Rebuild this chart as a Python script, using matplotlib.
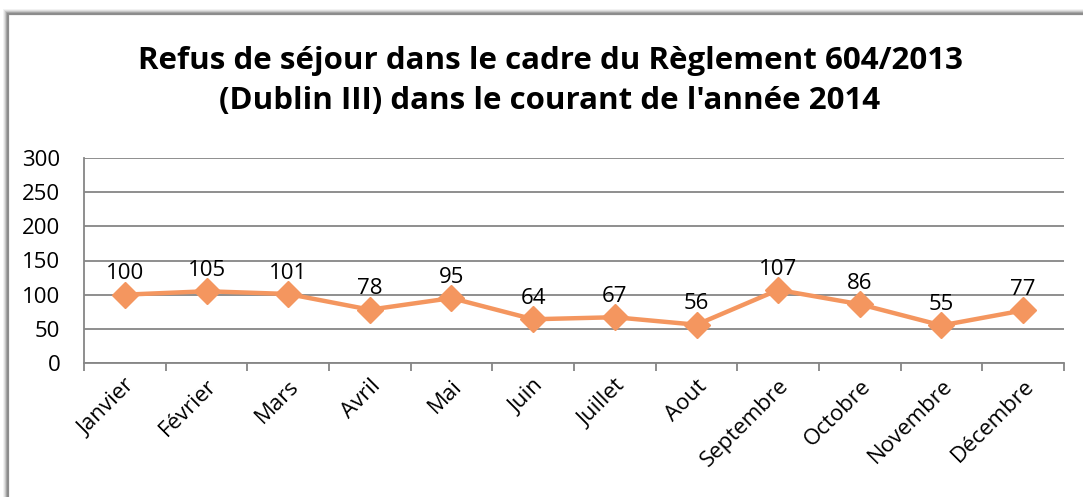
import matplotlib
matplotlib.use("Agg")
import matplotlib.pyplot as plt
from matplotlib.patches import Rectangle

months = ["Janvier", "Février", "Mars", "Avril", "Mai", "Juin", "Juillet",
          "Aout", "Septembre", "Octobre", "Novembre", "Décembre"]
values = [100, 105, 101, 78, 95, 64, 67, 56, 107, 86, 55, 77]
yticks = [0, 50, 100, 150, 200, 250, 300]
title = "Refus de séjour dans le cadre du Règlement 604/2013\n(Dublin III) dans le courant de l'année 2014"

plt.rcParams['font.family'] = ['Open Sans', 'DejaVu Sans']

W, H = 1083, 497
fig = plt.figure(figsize=(W / 100, H / 100), dpi=100)
fig.patch.set_facecolor("white")

# frame with shadow
for i, a in enumerate([0.05, 0.08, 0.11, 0.15, 0.2]):
    off = (5 - i)
    fig.patches.append(Rectangle(((8 - off) / W, 0), 1.0, (H - 14 + off) / H,
                                 transform=fig.transFigure, facecolor=(0, 0, 0, a),
                                 edgecolor="none", zorder=0))
fig.patches.append(Rectangle((8 / W, -0.1), 1.2, (H - 14) / H + 0.1,
                             transform=fig.transFigure, facecolor="white",
                             edgecolor="#8c8c8c", linewidth=1.6, zorder=1))

left, right, top, bottom = 84, 1064, 158, 363
ax = fig.add_axes([left / W, 1 - bottom / H, (right - left) / W, (bottom - top) / H])
ax.set_zorder(2)
ax.patch.set_alpha(0)

fs = 16
color = "#F4965F"
x = list(range(len(months)))
ax.plot(x, values, color=color, linewidth=3.2, marker="D", markersize=13,
        markeredgecolor=color, markerfacecolor=color, zorder=3, clip_on=False)
for xi, v in zip(x, values):
    ax.annotate(str(v), (xi, v), xytext=(0, 11), textcoords="offset points",
                ha="center", va="baseline", fontsize=fs, color="black")

ax.set_xlim(-0.5, len(months) - 0.5)
ax.set_ylim(0, 300)
ax.set_yticks(yticks)
ax.set_yticklabels([str(t) for t in yticks], fontsize=fs)
ax.yaxis.grid(True, color="#868686", linewidth=1.3)
ax.set_axisbelow(True)
ax.tick_params(axis="y", length=0, pad=17)

ax.set_xticks([i + 0.5 for i in range(-1, len(months))], minor=False)
ax.set_xticklabels([""] * (len(months) + 1))
ax.tick_params(axis="x", length=6, color="#868686", width=1.3, direction="out")
ax.set_xticks(x, minor=True)
ax.set_xticklabels(months, minor=True, rotation=45, ha="right", va="top",
                   rotation_mode="anchor", fontsize=fs)
ax.tick_params(axis="x", which="minor", length=0, pad=9)

for s in ["top", "right"]:
    ax.spines[s].set_visible(False)
ax.spines["left"].set_color("#868686")
ax.spines["left"].set_linewidth(1.3)
ax.spines["bottom"].set_color("#868686")
ax.spines["bottom"].set_linewidth(1.3)

fig.text(550 / W, 1 - 81 / H, title, ha="center", va="center", fontsize=22.5,
         fontweight="bold", linespacing=1.45, zorder=3)

fig.savefig("out.png", dpi=100)
